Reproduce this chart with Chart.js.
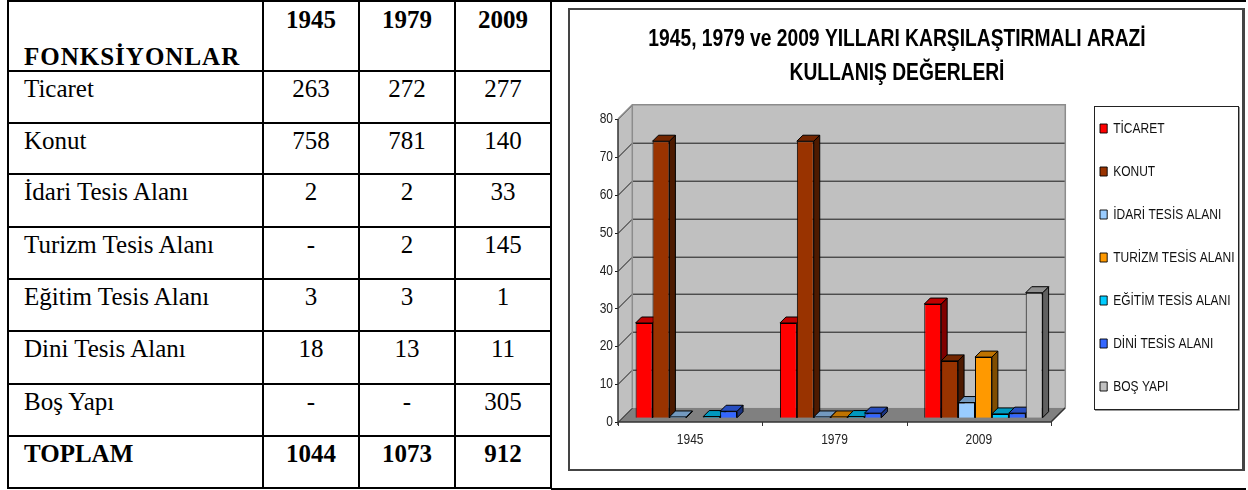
<!DOCTYPE html>
<html><head><meta charset="utf-8">
<script src="https://cdn.jsdelivr.net/npm/chart.js@4"></script>
<style>
html,body{margin:0;padding:0;background:#fff;width:1248px;height:490px;overflow:hidden}
#tbl{position:absolute;left:7px;top:0;border-collapse:collapse;table-layout:fixed;width:544px;font-family:"Liberation Serif",serif;font-size:25px;color:#000}
#tbl td{border:2px solid #000;padding:2px 0 0 0;vertical-align:top;text-align:center;line-height:29px;overflow:hidden;white-space:nowrap}
#tbl td.l{text-align:left;padding-left:15px}
#tbl td.b{font-weight:bold}
#tbl td.h{padding-top:3px}
#tbl td.c{vertical-align:bottom;text-align:left;letter-spacing:1px;line-height:27px;padding:0 0 0 15px}
.hl{position:absolute;left:551px;width:695px;height:2px;background:#000}
#box{position:absolute;left:568px;top:8px;width:672px;height:459px;border:2px solid #444;border-right-width:3px}
#cv{position:absolute;left:552px;top:9px}
</style></head><body>
<table id="tbl"><colgroup><col style="width:255px"><col style="width:96px"><col style="width:96px"><col style="width:96px"></colgroup><tbody id="tb"></tbody></table>
<div class="hl" style="top:0"></div><div class="hl" style="top:488px"></div>
<div id="box"></div>
<canvas id="cv" width="690" height="460" style="width:690px;height:460px"></canvas>
<script>
const tableCorner = 'FONKSİYONLAR';
const tableYears = ['1945', '1979', '2009'];
const tableNames = ['Ticaret', 'Konut', 'İdari Tesis Alanı', 'Turizm Tesis Alanı', 'Eğitim Tesis Alanı', 'Dini Tesis Alanı', 'Boş Yapı'];
const tableTicaret = ['263', '272', '277'];
const tableKonut = ['758', '781', '140'];
const tableIdari = ['2', '2', '33'];
const tableTurizm = ['-', '2', '145'];
const tableEgitim = ['3', '3', '1'];
const tableDini = ['18', '13', '11'];
const tableBos = ['-', '-', '305'];
const tableTotal = ['1044', '1073', '912'];
const tableTotalName = 'TOPLAM';
const rowHeights = [70, 52, 51, 53, 52, 52, 53, 52, 52];

const categories = ['1945', '1979', '2009'];
const titleLines = ['1945, 1979 ve 2009 YILLARI KARŞILAŞTIRMALI ARAZİ', 'KULLANIŞ DEĞERLERİ'];
const seriesNames = ['TİCARET', 'KONUT', 'İDARİ TESİS ALANI', 'TURİZM TESİS ALANI', 'EĞİTİM TESİS ALANI', 'DİNİ TESİS ALANI', 'BOŞ YAPI'];
const seriesColors = ['#FF0000', '#993300', '#99CCFF', '#FF9900', '#00CCFF', '#3366FF', '#C0C0C0'];
const ticaret = [25, 25, 30];
const konut = [73, 73, 15];
const idari = [0.2, 0.2, 4];
const turizm = [null, 0.2, 16];
const egitim = [0.3, 0.3, 1];
const dini = [1.7, 1.2, 1.2];
const bos = [null, null, 33];
const seriesValues = [ticaret, konut, idari, turizm, egitim, dini, bos];

// table
const tb = document.getElementById('tb');
function addRow(name, vals, bold, h, header) {
  const tr = document.createElement('tr'); tr.style.height = h + 'px';
  const td0 = document.createElement('td'); td0.className = header ? 'b c' : 'l' + (bold ? ' b' : ''); td0.textContent = name;
  tr.appendChild(td0);
  vals.forEach(v => { const td = document.createElement('td'); td.textContent = v; if (bold) td.className = header ? 'b h' : 'b'; tr.appendChild(td); });
  tb.appendChild(tr);
}
addRow(tableCorner, tableYears, true, rowHeights[0], true);
[tableTicaret, tableKonut, tableIdari, tableTurizm, tableEgitim, tableDini, tableBos].forEach((r, i) => addRow(tableNames[i], r, false, rowHeights[i + 1]));
addRow(tableTotalName, tableTotal, true, rowHeights[8]);

// chart
const FRONT_W = 433, WALL = 14.3, BAR_D = 6, SHIFT_X = 4.6, SHIFT_Y = 4.3;
function shade(hex, f) {
  const n = parseInt(hex.slice(1), 16);
  return 'rgb(' + [(n >> 16) & 255, (n >> 8) & 255, n & 255].map(c => Math.round(c * f)).join(',') + ')';
}
function squeeze(box, factor, cx) {
  const orig = box.draw;
  box.draw = function (a) {
    const c = this.ctx; c.save();
    c.translate(cx, 0); c.scale(factor, 1); c.translate(-cx, 0);
    orig.call(this, a); c.restore();
  };
}
function narrowLabels(scale, factor) {
  const orig = scale.drawLabels;
  scale.drawLabels = function (a) {
    const c = this.ctx;
    c.fillText = function (t, x, y) {
      CanvasRenderingContext2D.prototype.save.call(c);
      c.translate(x, 0); c.scale(factor, 1);
      CanvasRenderingContext2D.prototype.fillText.call(c, t, 0, y);
      c.restore();
    };
    orig.call(this, a);
    delete c.fillText;
  };
}
let wrapped = false;
const scene = {
  id: 'scene',
  afterLayout(chart) {
    const x = chart.scales.x;
    x.right = x.left + FRONT_W; x.width = FRONT_W; x.configure();
    const lg = chart.legend, pad = lg.options.labels.padding;
    lg.left = 548 - pad; lg.right = lg.left + 400;
    lg.top = 112 - pad; lg.bottom = lg.top + lg.height;
    if (!wrapped) {
      wrapped = true;
      squeeze(chart.titleBlock, 0.802, 345);
      squeeze(chart.legend, 0.8, 548);
      narrowLabels(chart.scales.x, 0.8);
      narrowLabels(chart.scales.y, 0.8);
    }
  },
  beforeDatasetsDraw(chart) {
    const c = chart.ctx, x = chart.scales.x, y = chart.scales.y;
    const L = x.left, R = x.right, B = y.getPixelForValue(0), T = y.getPixelForValue(80);
    c.save();
    c.fillStyle = '#C0C0C0';
    c.beginPath(); c.moveTo(L + WALL, T - WALL); c.lineTo(R + WALL, T - WALL); c.lineTo(R + WALL, B - WALL); c.lineTo(L + WALL, B - WALL); c.closePath(); c.fill();
    c.beginPath(); c.moveTo(L, T); c.lineTo(L + WALL, T - WALL); c.lineTo(L + WALL, B - WALL); c.lineTo(L, B); c.closePath(); c.fill();
    c.fillStyle = '#808080';
    c.beginPath(); c.moveTo(L, B); c.lineTo(R, B); c.lineTo(R + WALL, B - WALL); c.lineTo(L + WALL, B - WALL); c.closePath(); c.fill();
    c.lineWidth = 1; c.strokeStyle = '#1a1a1a';
    y.ticks.forEach(t => {
      const py = Math.round(y.getPixelForValue(t.value)) + 0.5;
      c.beginPath(); c.moveTo(L - 3, py); c.lineTo(L, py); c.lineTo(L + WALL, py - WALL);
      if (t.value > 0 && t.value < 80) c.lineTo(R + WALL, py - WALL);
      c.stroke();
    });
    c.strokeStyle = '#8c8c8c'; c.lineWidth = 1.5;
    c.beginPath(); c.moveTo(L, T); c.lineTo(L + WALL, T - WALL); c.lineTo(R + WALL, T - WALL); c.lineTo(R + WALL, B - WALL);
    c.moveTo(L + WALL, T - WALL); c.lineTo(L + WALL, B - WALL); c.stroke();
    c.strokeStyle = '#333'; c.lineWidth = 1.5;
    c.beginPath(); c.moveTo(L, T); c.lineTo(L, B + 3); c.moveTo(L, B); c.lineTo(R, B);
    c.moveTo(R, B); c.lineTo(R + WALL, B - WALL); c.stroke();
    c.lineWidth = 1;
    for (let i = 0; i <= categories.length; i++) {
      const px = Math.round(L + (R - L) * i / categories.length) + 0.5;
      c.beginPath(); c.moveTo(px, B); c.lineTo(px, B + 4); c.stroke();
    }
    // bars, left to right, each with its side and top faces behind its front
    c.translate(SHIFT_X, -SHIFT_Y);
    c.lineWidth = 1; c.strokeStyle = '#000';
    seriesNames.forEach((n, k) => {
      const col = seriesColors[k];
      chart.getDatasetMeta(k).data.forEach((el, i) => {
        if (seriesValues[k][i] == null) return;
        const r = el.x + el.width / 2, l = el.x - el.width / 2, t = el.y, b = el.base, d = BAR_D;
        c.fillStyle = shade(col, 0.5);
        c.beginPath(); c.moveTo(r, t); c.lineTo(r + d, t - d); c.lineTo(r + d, b - d); c.lineTo(r, b); c.closePath(); c.fill(); c.stroke();
        c.fillStyle = shade(col, 0.75);
        c.beginPath(); c.moveTo(l, t); c.lineTo(l + d, t - d); c.lineTo(r + d, t - d); c.lineTo(r, t); c.closePath(); c.fill(); c.stroke();
        el.draw(c);
      });
    });
    c.restore();
    return false;
  },
  beforeDraw(chart) {
    const c = chart.ctx;
    c.save();
    c.fillStyle = '#fff'; c.fillRect(542, 97, 144, 303);
    c.strokeStyle = '#222'; c.lineWidth = 1; c.strokeRect(542.5, 97.5, 144, 303);
    c.strokeStyle = '#999'; c.beginPath(); c.moveTo(687.5, 98); c.lineTo(687.5, 401.5); c.lineTo(543, 401.5); c.stroke();
    c.restore();
  }
};

const FONT = '"Liberation Sans",Arial,sans-serif';
new Chart(document.getElementById('cv'), {
  type: 'bar',
  data: {
    labels: categories,
    datasets: seriesNames.map((n, i) => ({
      label: n, data: seriesValues[i], backgroundColor: seriesColors[i], borderColor: '#000', borderWidth: 1,
      categoryPercentage: 0.82, barPercentage: 1, clip: false
    }))
  },
  options: {
    responsive: false, animation: false, devicePixelRatio: 1,
    layout: { padding: 0 },
    scales: {
      x: {
        grid: { display: false, drawTicks: false }, border: { display: false },
        ticks: { color: '#222', padding: 9, font: { family: FONT, size: 15 }, maxRotation: 0, autoSkip: false },
        afterFit(s) { s.height = 47; }
      },
      y: {
        min: 0, max: 80,
        grid: { display: false, drawTicks: false }, border: { display: false },
        ticks: { stepSize: 10, color: '#222', padding: 5, font: { family: FONT, size: 15 } },
        afterFit(s) { s.width = 66; }
      }
    },
    plugins: {
      tooltip: { enabled: false },
      title: {
        display: true, text: titleLines, color: '#000',
        font: { family: FONT, size: 24, weight: 'bold', lineHeight: 34 / 24 },
        padding: { top: 13, bottom: 29 }
      },
      legend: {
        position: 'right', align: 'start',
        labels: { color: '#111', font: { family: FONT, size: 15 }, boxWidth: 9, boxHeight: 9, padding: 28 }
      }
    }
  },
  plugins: [scene]
});
</script>
</body></html>
